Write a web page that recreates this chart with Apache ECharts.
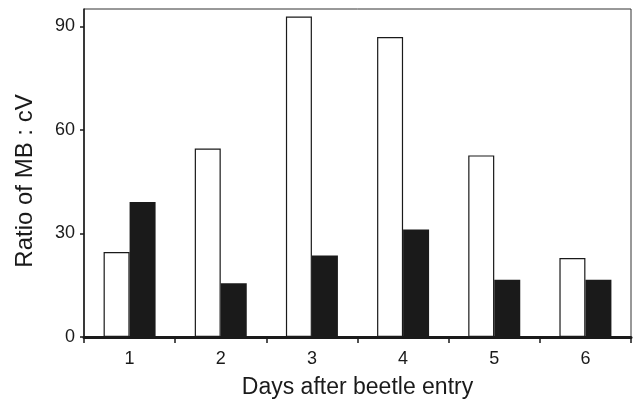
<!DOCTYPE html>
<html>
<head>
<meta charset="utf-8">
<script src="https://cdn.jsdelivr.net/npm/echarts@6/dist/echarts.min.js"></script>
<style>
html,body{margin:0;padding:0;background:#fff;}
#main{width:637px;height:404px;}
</style>
</head>
<body>
<div id="main"></div>
<script>
var categories = ['1', '2', '3', '4', '5', '6'];
var whiteValues = [24.6, 54.6, 92.8, 86.9, 52.6, 22.9];
var blackValues = [39.1, 15.6, 23.6, 31.1, 16.6, 16.6];
var yTicks = [0, 30, 60, 90];
var xTitle = 'Days after beetle entry';
var yTitle = 'Ratio of MB : cV';

var chart = echarts.init(document.getElementById('main'), null, {renderer: 'canvas'});
var font = 'Liberation Sans, Arial, sans-serif';
chart.setOption({
  animation: false,
  backgroundColor: '#fff',
  grid: {left: 84, right: 6, top: 9, bottom: 67, show: true, borderColor: '#333', borderWidth: 1},
  xAxis: {
    type: 'category',
    data: categories,
    name: xTitle,
    nameLocation: 'middle',
    nameGap: 39,
    nameTextStyle: {fontFamily: font, fontSize: 23, color: '#1a1a1a'},
    axisLine: {lineStyle: {color: '#1a1a1a', width: 3}},
    axisTick: {show: true, inside: false, length: 6, interval: 0, lineStyle: {color: '#1a1a1a', width: 1.5}},
    axisLabel: {fontFamily: font, fontSize: 18, color: '#1a1a1a', margin: 13}
  },
  yAxis: {
    type: 'value',
    min: 0,
    max: 95,
    interval: 30,
    name: yTitle,
    nameLocation: 'middle',
    nameGap: 47,
    nameTextStyle: {fontFamily: font, fontSize: 24, color: '#1a1a1a', padding: [0, 16, 0, 0]},
    splitLine: {show: false},
    axisLine: {show: true, lineStyle: {color: '#1a1a1a', width: 1.5}},
    axisTick: {show: true, inside: false, length: 4, customValues: yTicks, lineStyle: {color: '#1a1a1a', width: 1.5}},
    axisLabel: {fontFamily: font, fontSize: 18, color: '#1a1a1a', margin: 9, customValues: yTicks}
  },
  series: [
    {
      type: 'bar',
      data: whiteValues,
      barWidth: 26,
      barGap: '0%',
      itemStyle: {color: '#ffffff', borderColor: '#1a1a1a', borderWidth: 1.2}
    },
    {
      type: 'bar',
      data: blackValues,
      barWidth: 26,
      barGap: '0%',
      itemStyle: {color: '#1a1a1a', borderColor: '#1a1a1a', borderWidth: 0}
    }
  ]
});
</script>
</body>
</html>
